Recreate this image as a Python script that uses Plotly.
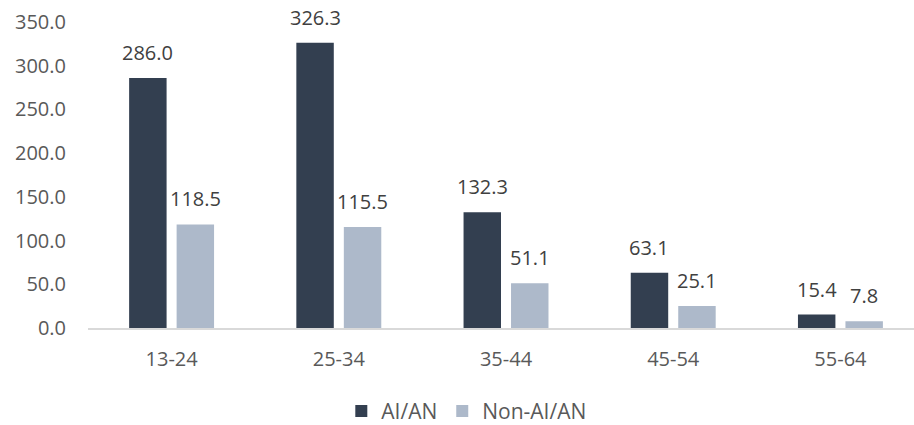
import plotly.graph_objects as go

categories = ["13-24", "25-34", "35-44", "45-54", "55-64"]
ai_an = [286.0, 326.3, 132.3, 63.1, 15.4]
non_ai_an = [118.5, 115.5, 51.1, 25.1, 7.8]
series_names = ["AI/AN", "Non-AI/AN"]
y_ticks = [0, 50, 100, 150, 200, 250, 300, 350]

FONT = "Open Sans"
TXT = "#404040"
AX = "#595959"
FS = 20

BAR_W = 0.224
OFFSETS = [-0.254, 0.030]
COLORS = ["#333F50", "#ADB9CA"]

xs = list(range(len(categories)))
fig = go.Figure()
for name, vals, off, col in zip(series_names, [ai_an, non_ai_an], OFFSETS, COLORS):
    fig.add_trace(go.Bar(
        x=xs, y=vals, name=name, width=BAR_W, offset=off,
        marker=dict(color=col, line=dict(width=0)),
        hoverinfo="y",
    ))
    for xi, v in zip(xs, vals):
        fig.add_annotation(
            x=xi + off + BAR_W / 2, y=v, xref="x", yref="y",
            text=f"{v:.1f}", showarrow=False, yanchor="bottom",
            yshift=10, font=dict(family=FONT, size=FS, color=TXT),
        )

fig.update_layout(
    width=914, height=425,
    margin=dict(l=88, r=0, t=22, b=97, autoexpand=False),
    paper_bgcolor="white", plot_bgcolor="white",
    barmode="overlay",
    font=dict(family=FONT, size=FS, color=AX),
    showlegend=True,
    legend=dict(orientation="h", x=0.458, xanchor="center", y=-0.205, yanchor="top",
                font=dict(family=FONT, size=21, color=AX),
                itemwidth=30, traceorder="normal"),
    xaxis=dict(range=[-0.5, 4.44], tickvals=xs, ticktext=categories,
               showline=True, linecolor="#D9D9D9", linewidth=2,
               ticks="", showgrid=False, zeroline=False, automargin=False,
               ticklabelstandoff=12, tickfont=dict(size=FS, color=AX)),
    yaxis=dict(range=[0, 350], tickvals=y_ticks, ticktext=[f"{v:.1f}" for v in y_ticks],
               showgrid=False, zeroline=False, showline=False, ticks="", automargin=False,
               ticklabelstandoff=21, tickfont=dict(size=FS, color=AX)),
)

fig.write_html("out.html", config={"displayModeBar": False},
               post_script="document.body.style.margin='0';document.body.style.overflow='hidden';")
